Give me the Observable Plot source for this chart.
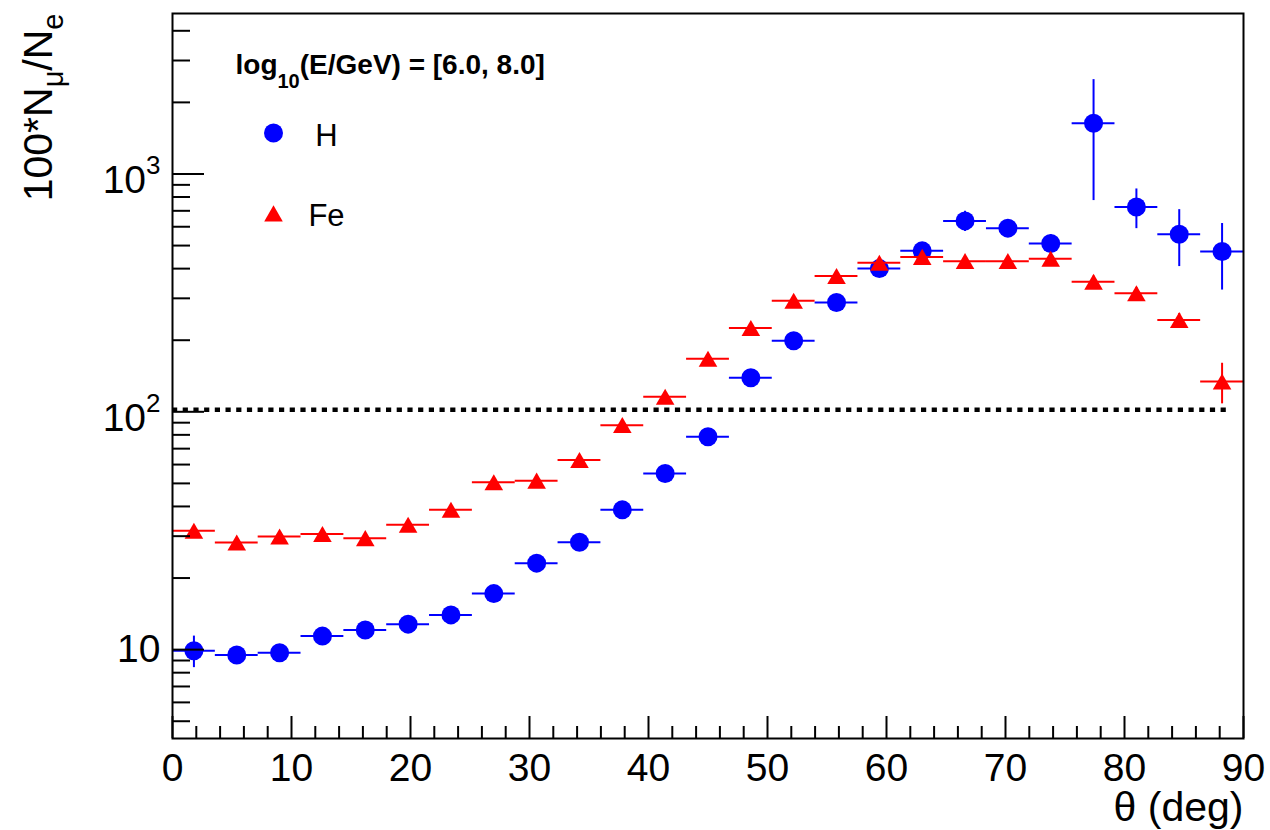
<!DOCTYPE html>
<html>
<head>
<meta charset="utf-8">
<script src="https://cdn.jsdelivr.net/npm/d3@7"></script>
<script src="https://cdn.jsdelivr.net/npm/@observablehq/plot@0.6"></script>
<style>
  html, body { margin: 0; padding: 0; background: #fff; }
  #chart svg { display: block; }
</style>
</head>
<body>
<div id="chart"></div>
<script>
// ---- data ----
const thetaCenters = [1.8, 5.4, 9.0, 12.6, 16.2, 19.8, 23.4, 27.0, 30.6, 34.2, 37.8, 41.4, 45.0,
                      48.6, 52.2, 55.8, 59.4, 63.0, 66.6, 70.2, 73.8, 77.4, 81.0, 84.6, 88.2];
const binWidth = 3.6;
const hValues  = [9.9, 9.5, 9.7, 11.4, 12.1, 12.8, 14.0, 17.2, 23.1, 28.3, 38.7, 55, 78.5,
                  139, 199, 288, 400, 475, 635, 592, 510, 1633, 727, 558, 472];
const hErrors  = [1.5, 0.6, 0.6, 0.7, 0.7, 0.8, 0.9, 1.0, 1.3, 1.6, 2.2, 3.0, 4.0,
                  7, 10, 14, 20, 26, 62, 48, 45, 860, 138, 150, 147];
const feValues = [31.6, 28.2, 29.9, 30.6, 29.4, 33.5, 38.7, 50.5, 51.3, 62.7, 87.9, 115.6, 167,
                  225, 293, 372, 423, 448, 430, 430, 440, 352, 315, 243, 134];
const feErrors = [1.5, 1.3, 1.3, 1.4, 1.4, 1.6, 1.9, 2.3, 2.5, 3, 4, 5, 7,
                  9, 12, 15, 18, 20, 20, 22, 25, 20, 18, 16, 26];

const xDomain = [0, 90];
const yDomain = [4.23, 4729];
const xMajorTicks = [0, 10, 20, 30, 40, 50, 60, 70, 80, 90];
const xMinorTicks = [2, 4, 6, 8, 12, 14, 16, 18, 22, 24, 26, 28, 32, 34, 36, 38, 42, 44, 46, 48,
                     52, 54, 56, 58, 62, 64, 66, 68, 72, 74, 76, 78, 82, 84, 86, 88];
const yMajorTicks = [10, 100, 1000];
const yMajorLabels = ["10", "10^{2}", "10^{3}"];
const yMinorTicks = [5, 6, 7, 8, 9, 20, 30, 40, 50, 60, 70, 80, 90,
                     200, 300, 400, 500, 600, 700, 800, 900, 2000, 3000, 4000];
const refLevel = 100;
const refLineRange = [0, 89];

const seriesNames = ["H", "Fe"];
const legendTitle = "log_{10}(E/GeV) = [6.0, 8.0]";
const xTitle = "θ (deg)";
const yTitle = "100*N_{μ}/N_{e}";

// ---- build tables ----
const rows = (vals, errs) => thetaCenters.map((t, i) => ({
  t, lo: t - binWidth / 2, hi: t + binWidth / 2,
  v: vals[i], e1: vals[i] - errs[i], e2: vals[i] + errs[i]
}));
const H = rows(hValues, hErrors);
const FE = rows(feValues, feErrors);

const blue = "#0000ff", red = "#ff0000";
const font = "'Liberation Sans', Arial, Helvetica, sans-serif";

const plot = Plot.plot({
  width: 1270,
  height: 830,
  marginLeft: 172,
  marginRight: 27,
  marginTop: 13,
  marginBottom: 92,
  style: {fontFamily: font, background: "#fff", color: "#000", overflow: "visible"},
  x: {domain: xDomain, type: "linear", label: null},
  y: {type: "log", domain: yDomain, label: null},
  marks: [
    Plot.ruleY([refLevel], {x1: refLineRange[0], x2: refLineRange[1], stroke: "#000",
                            strokeWidth: 4.5, strokeDasharray: "5.2,5.5", dy: -2}),
    // H
    Plot.ruleY(H, {y: "v", x1: "lo", x2: "hi", stroke: blue, strokeWidth: 2}),
    Plot.ruleX(H, {x: "t", y1: "e1", y2: "e2", stroke: blue, strokeWidth: 2}),
    Plot.dot(H, {x: "t", y: "v", r: 9.5, fill: blue, symbol: "circle"}),
    // Fe
    Plot.ruleY(FE, {y: "v", x1: "lo", x2: "hi", stroke: red, strokeWidth: 2}),
    Plot.ruleX(FE, {x: "t", y1: "e1", y2: "e2", stroke: red, strokeWidth: 2}),
    Plot.dot(FE, {x: "t", y: "v", r: 6.9, fill: red, symbol: "triangle", dy: 2.6}),
    // axes: ticks inward
    Plot.axisX({ticks: xMinorTicks, tickSize: -12, fill: "none", strokeWidth: 2, label: null}),
    Plot.axisX({ticks: xMajorTicks, tickSize: -22, fill: "none", strokeWidth: 2, label: null}),
    Plot.axisX({ticks: xMajorTicks, tickSize: 0, tickPadding: 15, fontSize: 39, label: null}),
    Plot.axisY({ticks: yMinorTicks, tickSize: -18, fill: "none", strokeWidth: 2, label: null}),
    Plot.axisY({ticks: yMajorTicks, tickSize: -32, fill: "none", strokeWidth: 2, label: null}),
    Plot.axisY({ticks: yMajorTicks, tickSize: 0, tickPadding: 12, fontSize: 39, label: null,
                tickFormat: d => yMajorLabels[yMajorTicks.indexOf(d)]}),
    Plot.frame({stroke: "#000", strokeWidth: 2}),
    // titles
    Plot.text([xTitle], {text: d => d, frameAnchor: "bottom-right", textAnchor: "end",
                         lineAnchor: "bottom", dy: 82, fontSize: 41}),
    Plot.text([yTitle], {text: d => d, frameAnchor: "top-left", rotate: -90, textAnchor: "end",
                         lineAnchor: "bottom", dx: -121, dy: 0, fontSize: 41}),
    // legend
    Plot.text([legendTitle], {text: d => d, frameAnchor: "top-left", textAnchor: "start",
                              lineAnchor: "bottom", dx: 63, dy: 60, fontSize: 28, fontWeight: "bold"}),
    Plot.dot([seriesNames[0]], {frameAnchor: "top-left", dx: 101, dy: 119.5, r: 9.5, fill: blue, symbol: "circle"}),
    Plot.dot([seriesNames[1]], {frameAnchor: "top-left", dx: 101, dy: 202.6, r: 6.9, fill: red, symbol: "triangle"}),
    Plot.text([seriesNames[0]], {text: d => d, frameAnchor: "top-left", textAnchor: "middle",
                                 lineAnchor: "bottom", dx: 154, dy: 132, fontSize: 31}),
    Plot.text([seriesNames[1]], {text: d => d, frameAnchor: "top-left", textAnchor: "middle",
                                 lineAnchor: "bottom", dx: 154, dy: 212, fontSize: 31})
  ]
});

// ---- rich text: sub/superscripts as tspans ----
function richText(svg) {
  d3.select(svg).selectAll("text").each(function () {
    const el = this;
    const s = el.textContent;
    if (!/[_^]\{/.test(s)) return;
    let cfg;
    if (s.startsWith("10^")) cfg = {baseDy: 6.9, size: 26, supShift: 19.4, subShift: 0};
    else if (s.startsWith("log")) cfg = {baseDy: 0, size: 20, supShift: 0, subShift: 14};
    else cfg = {baseDy: 0, size: 29, supShift: 0, subShift: 11};
    const segs = [];
    const re = /([_^])\{([^}]*)\}/g;
    let last = 0, m;
    while ((m = re.exec(s))) {
      if (m.index > last) segs.push({t: s.slice(last, m.index), mode: "n"});
      segs.push({t: m[2], mode: m[1] === "_" ? "sub" : "sup"});
      last = re.lastIndex;
    }
    if (last < s.length) segs.push({t: s.slice(last), mode: "n"});
    while (el.firstChild) el.removeChild(el.firstChild);
    let cur = 0;
    segs.forEach((seg, i) => {
      const target = seg.mode === "sub" ? cfg.subShift : seg.mode === "sup" ? -cfg.supShift : 0;
      const dy = target - cur + (i === 0 ? cfg.baseDy : 0);
      cur = target;
      const ts = d3.select(el).append("tspan").text(seg.t);
      if (dy) ts.attr("dy", dy);
      if (seg.mode !== "n") ts.attr("font-size", cfg.size);
    });
  });
}
richText(plot);
document.getElementById("chart").appendChild(plot);
</script>
</body>
</html>
